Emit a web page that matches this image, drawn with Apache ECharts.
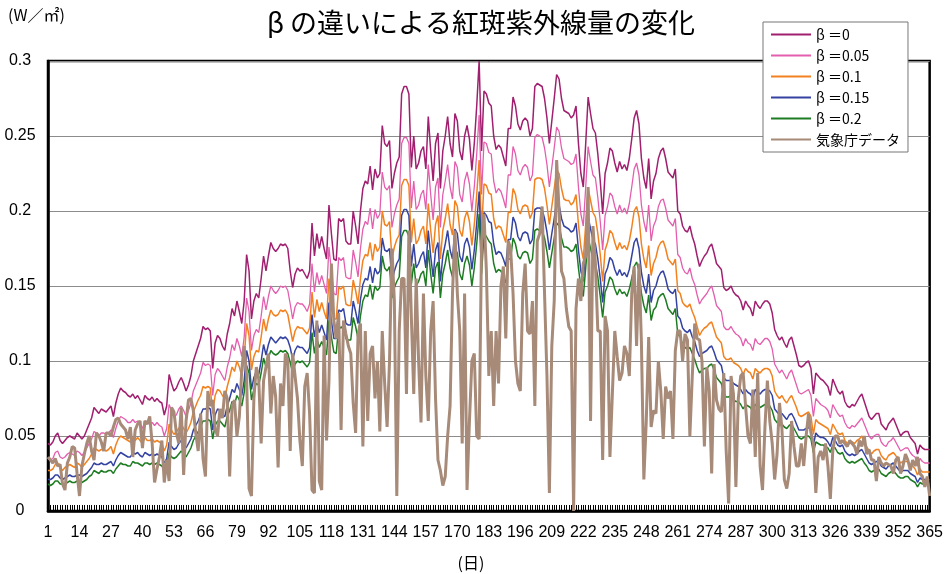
<!DOCTYPE html>
<html>
<head>
<meta charset="utf-8">
<script src="https://cdn.jsdelivr.net/npm/echarts/dist/echarts.min.js"></script>
<style>
  html, body { margin: 0; padding: 0; background: #fff; }
  #chart { width: 946px; height: 574px; }
</style>
</head>
<body>
<div id="chart"></div>
<script>
// Day of year, 1..365
const days = Array.from({ length: 365 }, (_, i) => String(i + 1));
const yTicks = [0, 0.05, 0.1, 0.15, 0.2, 0.25, 0.3];

const seriesNames = ['β ＝0', 'β ＝0.05', 'β ＝0.1', 'β ＝0.15', 'β ＝0.2', '気象庁データ'];

// Erythemal UV (W/m2), model with turbidity β = 0
const beta000 = [
.045,.044,.046,.05,.052,.047,.045,.047,.049,.05,
.049,.048,.052,.05,.048,.05,.054,.058,.062,.069,
.067,.065,.068,.067,.066,.068,.07,.063,.072,.078,
.082,.08,.079,.077,.076,.078,.075,.077,.074,.071,
.077,.075,.074,.076,.073,.075,.073,.072,.064,.07,
.091,.085,.08,.082,.086,.089,.085,.08,.084,.09,
.1,.105,.11,.115,.123,.121,.122,.12,.095,.112,
.117,.115,.11,.107,.118,.125,.135,.13,.14,.133,
.125,.14,.171,.16,.128,.14,.145,.142,.155,.17,
.16,.17,.179,.175,.173,.175,.178,.177,.178,.175,
.16,.149,.158,.162,.16,.161,.158,.155,.16,.192,
.17,.185,.175,.183,.175,.168,.204,.185,.168,.167,
.195,.193,.195,.18,.178,.178,.2,.19,.178,.2,
.215,.22,.218,.23,.214,.228,.222,.225,.257,.245,
.243,.247,.215,.225,.232,.236,.278,.283,.283,.278,
.229,.25,.228,.232,.24,.243,.228,.263,.24,.22,
.245,.252,.215,.24,.25,.263,.245,.236,.265,.26,
.24,.234,.25,.257,.248,.227,.245,.27,.3,.24,
.28,.278,.272,.27,.25,.241,.244,.242,.236,.23,
.255,.255,.276,.27,.258,.254,.26,.262,.26,.25,
.255,.283,.285,.284,.283,.275,.262,.245,.26,.275,
.291,.288,.275,.267,.266,.265,.262,.264,.27,.245,
.225,.216,.245,.276,.265,.255,.252,.238,.22,.198,
.225,.232,.242,.24,.232,.226,.233,.228,.231,.227,
.235,.248,.262,.267,.258,.235,.222,.215,.235,.208,
.22,.225,.235,.24,.242,.235,.226,.224,.222,.228,
.2,.198,.19,.187,.186,.19,.183,.178,.17,.163,
.167,.17,.172,.176,.178,.172,.165,.163,.161,.149,
.147,.148,.15,.146,.144,.143,.14,.134,.14,.137,
.135,.13,.14,.137,.135,.138,.14,.14,.138,.132,
.121,.117,.114,.116,.112,.109,.114,.116,.11,.104,
.097,.096,.097,.099,.1,.095,.078,.092,.09,.088,
.087,.085,.083,.077,.088,.084,.08,.078,.08,.073,
.07,.069,.071,.07,.073,.076,.078,.073,.068,.063,
.061,.063,.065,.065,.058,.056,.054,.058,.06,.062,
.058,.054,.05,.052,.053,.053,.049,.047,.045,.038,
.044,.042,.041,.041,.041
];

// β = 0.05
const beta005 = [
.035,.034,.035,.039,.040,.036,.035,.036,.038,.039,
.038,.037,.040,.039,.037,.039,.042,.045,.048,.053,
.052,.050,.052,.052,.051,.052,.054,.049,.055,.060,
.063,.062,.061,.059,.059,.061,.059,.060,.058,.055,
.060,.059,.058,.059,.057,.059,.057,.056,.050,.055,
.071,.067,.063,.064,.068,.070,.067,.063,.067,.072,
.080,.084,.088,.092,.099,.097,.098,.097,.077,.091,
.095,.093,.090,.087,.096,.102,.111,.107,.115,.110,
.103,.116,.142,.133,.107,.117,.121,.119,.130,.143,
.134,.143,.150,.147,.145,.147,.150,.149,.150,.147,
.138,.128,.136,.139,.138,.138,.136,.133,.138,.165,
.146,.159,.151,.157,.151,.145,.176,.160,.145,.144,
.169,.167,.169,.156,.155,.155,.174,.166,.156,.175,
.188,.193,.191,.202,.188,.201,.195,.198,.226,.216,
.214,.217,.189,.198,.204,.208,.245,.249,.249,.245,
.202,.220,.201,.204,.211,.214,.201,.231,.211,.194,
.216,.222,.189,.211,.220,.231,.216,.208,.233,.229,
.211,.206,.220,.226,.218,.200,.216,.238,.264,.211,
.246,.245,.239,.238,.220,.212,.215,.213,.208,.202,
.224,.224,.243,.238,.227,.224,.229,.231,.229,.220,
.224,.249,.251,.250,.249,.242,.231,.216,.229,.242,
.256,.253,.242,.235,.234,.233,.231,.232,.238,.216,
.198,.190,.216,.243,.233,.224,.222,.209,.193,.174,
.197,.203,.212,.210,.203,.198,.204,.199,.202,.198,
.205,.216,.228,.232,.224,.204,.193,.186,.204,.180,
.190,.194,.203,.207,.208,.202,.194,.192,.190,.195,
.171,.169,.162,.159,.158,.162,.155,.151,.144,.138,
.141,.143,.145,.148,.150,.144,.137,.135,.133,.123,
.121,.121,.123,.120,.118,.117,.115,.110,.115,.112,
.111,.107,.115,.112,.111,.113,.115,.115,.113,.108,
.098,.095,.092,.094,.091,.088,.092,.094,.089,.084,
.079,.078,.079,.080,.081,.077,.063,.075,.073,.071,
.070,.069,.067,.062,.071,.068,.065,.063,.064,.059,
.056,.055,.057,.056,.058,.060,.062,.058,.054,.050,
.048,.050,.051,.051,.046,.044,.043,.046,.047,.049,
.046,.043,.040,.041,.042,.042,.039,.037,.036,.030,
.035,.033,.032,.032,.032
];

// β = 0.1
const beta010 = [
.027,.027,.028,.031,.032,.029,.027,.029,.030,.031,
.030,.029,.032,.031,.029,.031,.033,.035,.038,.042,
.041,.040,.041,.041,.040,.041,.043,.038,.044,.048,
.050,.049,.048,.047,.046,.049,.047,.049,.047,.045,
.049,.047,.047,.048,.046,.047,.046,.045,.040,.044,
.058,.054,.051,.053,.055,.058,.055,.052,.055,.059,
.066,.070,.074,.077,.083,.082,.083,.082,.065,.077,
.081,.080,.077,.075,.083,.089,.096,.093,.100,.096,
.090,.102,.125,.117,.094,.103,.107,.106,.116,.128,
.120,.128,.134,.131,.130,.131,.134,.133,.134,.131,
.122,.113,.120,.123,.122,.122,.120,.118,.122,.146,
.129,.141,.133,.139,.133,.128,.155,.141,.128,.128,
.149,.148,.150,.138,.137,.137,.154,.147,.138,.155,
.167,.171,.170,.179,.167,.178,.173,.176,.200,.191,
.190,.193,.168,.176,.181,.184,.217,.221,.221,.217,
.179,.195,.178,.181,.187,.190,.178,.205,.187,.172,
.191,.197,.168,.187,.195,.205,.191,.184,.207,.203,
.187,.183,.195,.200,.193,.177,.191,.211,.234,.187,
.218,.217,.212,.211,.195,.188,.190,.189,.184,.179,
.199,.199,.215,.211,.201,.198,.203,.204,.203,.195,
.199,.221,.222,.222,.221,.215,.204,.191,.203,.215,
.227,.225,.215,.208,.207,.207,.204,.206,.211,.191,
.176,.168,.191,.215,.207,.199,.196,.185,.171,.153,
.174,.179,.187,.185,.179,.174,.179,.175,.177,.174,
.180,.189,.200,.203,.196,.178,.168,.162,.177,.157,
.165,.169,.176,.179,.180,.175,.168,.166,.164,.168,
.147,.145,.139,.137,.136,.138,.133,.129,.123,.117,
.120,.122,.123,.125,.126,.121,.116,.114,.112,.103,
.101,.101,.102,.099,.098,.097,.095,.091,.095,.093,
.092,.088,.095,.093,.092,.094,.095,.095,.094,.090,
.080,.077,.075,.077,.074,.072,.075,.077,.073,.069,
.064,.063,.064,.065,.066,.063,.051,.061,.059,.058,
.057,.056,.055,.051,.058,.055,.052,.051,.052,.047,
.045,.045,.046,.045,.047,.048,.050,.046,.043,.040,
.038,.040,.041,.041,.037,.035,.034,.037,.038,.039,
.037,.034,.032,.033,.033,.033,.031,.030,.028,.024,
.028,.026,.026,.026,.026
];

// β = 0.15
const beta015 = [
.021,.021,.022,.024,.024,.022,.021,.022,.023,.024,
.023,.023,.024,.024,.023,.024,.025,.027,.029,.032,
.031,.031,.032,.031,.031,.032,.033,.030,.034,.037,
.039,.038,.037,.036,.036,.039,.038,.039,.037,.036,
.039,.038,.037,.038,.037,.038,.037,.036,.032,.035,
.046,.043,.041,.042,.045,.047,.045,.042,.045,.048,
.054,.057,.060,.064,.068,.068,.069,.068,.054,.064,
.068,.067,.064,.063,.070,.075,.081,.079,.085,.081,
.077,.087,.107,.100,.081,.089,.093,.091,.100,.111,
.104,.111,.116,.114,.112,.114,.116,.115,.116,.114,
.109,.101,.107,.110,.109,.109,.107,.105,.109,.131,
.116,.126,.119,.124,.119,.114,.139,.127,.115,.115,
.134,.133,.135,.125,.124,.124,.140,.133,.125,.141,
.151,.155,.154,.163,.152,.162,.158,.160,.182,.174,
.173,.175,.153,.160,.165,.168,.197,.201,.201,.197,
.163,.178,.162,.165,.170,.173,.162,.187,.170,.156,
.174,.179,.153,.170,.178,.187,.174,.168,.188,.185,
.170,.166,.178,.182,.176,.161,.174,.192,.213,.170,
.199,.197,.193,.192,.178,.171,.173,.172,.168,.163,
.181,.181,.196,.192,.183,.180,.185,.186,.185,.178,
.181,.201,.202,.202,.201,.195,.186,.174,.185,.195,
.207,.204,.195,.190,.189,.188,.186,.187,.192,.174,
.160,.153,.174,.196,.188,.181,.178,.168,.155,.139,
.158,.162,.169,.167,.161,.157,.161,.157,.159,.156,
.161,.170,.179,.182,.175,.159,.150,.145,.158,.139,
.147,.150,.156,.159,.160,.155,.148,.146,.145,.148,
.130,.128,.122,.120,.119,.121,.116,.113,.107,.103,
.105,.106,.107,.109,.110,.106,.101,.099,.097,.089,
.087,.087,.087,.085,.084,.083,.081,.078,.081,.079,
.078,.075,.081,.079,.078,.080,.081,.081,.080,.077,
.068,.066,.064,.065,.063,.061,.064,.065,.062,.058,
.054,.054,.054,.055,.056,.053,.044,.052,.050,.049,
.049,.048,.046,.043,.049,.047,.044,.043,.044,.040,
.038,.037,.038,.037,.038,.040,.041,.038,.035,.032,
.031,.032,.033,.033,.030,.029,.028,.030,.031,.032,
.030,.028,.026,.027,.027,.027,.025,.024,.023,.019,
.022,.021,.021,.021,.021
];

// β = 0.2
const beta020 = [
.018,.017,.018,.020,.020,.018,.018,.018,.019,.020,
.019,.019,.020,.020,.019,.020,.021,.023,.024,.027,
.026,.025,.027,.026,.026,.027,.027,.025,.028,.030,
.032,.031,.031,.030,.030,.033,.032,.032,.031,.030,
.032,.032,.031,.032,.031,.032,.031,.030,.027,.029,
.039,.036,.035,.036,.038,.040,.038,.036,.039,.042,
.047,.050,.053,.056,.060,.060,.061,.060,.048,.057,
.060,.060,.058,.056,.063,.067,.073,.071,.077,.074,
.070,.079,.097,.092,.074,.081,.085,.084,.092,.102,
.096,.102,.107,.105,.104,.105,.107,.106,.107,.105,
.099,.092,.098,.100,.099,.100,.098,.096,.099,.119,
.105,.115,.109,.113,.109,.104,.127,.116,.106,.105,
.123,.122,.124,.115,.114,.114,.129,.123,.115,.130,
.140,.144,.143,.151,.141,.150,.147,.149,.170,.162,
.160,.163,.142,.149,.153,.156,.183,.187,.187,.183,
.151,.165,.150,.153,.158,.160,.150,.174,.158,.145,
.162,.166,.142,.158,.165,.174,.162,.156,.175,.172,
.158,.154,.165,.170,.164,.150,.162,.178,.198,.158,
.185,.183,.180,.178,.165,.159,.161,.160,.156,.152,
.168,.168,.182,.178,.170,.168,.172,.173,.172,.165,
.168,.187,.188,.187,.187,.182,.173,.162,.172,.182,
.192,.190,.182,.176,.176,.175,.173,.174,.178,.162,
.149,.143,.162,.182,.175,.168,.165,.156,.143,.129,
.146,.150,.156,.154,.148,.144,.148,.145,.146,.143,
.148,.155,.163,.166,.160,.145,.137,.132,.144,.127,
.134,.136,.142,.144,.145,.141,.135,.133,.131,.135,
.118,.116,.111,.109,.108,.109,.105,.101,.096,.092,
.094,.095,.095,.097,.098,.094,.089,.087,.085,.078,
.076,.076,.077,.074,.073,.073,.071,.068,.071,.070,
.069,.066,.071,.070,.069,.070,.071,.071,.070,.067,
.061,.059,.057,.058,.056,.055,.057,.058,.055,.052,
.049,.048,.049,.050,.050,.048,.039,.046,.045,.044,
.044,.043,.042,.039,.044,.042,.039,.038,.039,.035,
.033,.032,.033,.032,.033,.034,.035,.032,.030,.027,
.026,.027,.028,.028,.025,.024,.023,.025,.026,.027,
.025,.023,.022,.022,.023,.023,.021,.020,.019,.016,
.019,.018,.018,.018,.018
];

// Observed daily values (気象庁)
const jmaObserved = [
.036,.034,.032,.035,.03,.031,.018,.014,.032,.036,
.043,.042,.025,.01,.03,.038,.045,.05,.04,.034,
.052,.05,.046,.04,.052,.052,.05,.056,.061,.062,
.058,.056,.054,.048,.056,.036,.054,.058,.06,.042,
.06,.058,.063,.045,.019,.028,.036,.047,.019,.034,
.02,.069,.066,.052,.045,.069,.024,.06,.074,.075,
.067,.052,.04,.065,.035,.023,.08,.07,.074,.055,
.05,.068,.062,.08,.075,.023,.07,.074,.05,.063,
.094,.11,.09,.015,.01,.075,.096,.088,.045,.087,
.096,.105,.065,.09,.076,.029,.085,.07,.105,.1,
.04,.105,.09,.075,.047,.03,.083,.092,.065,.014,
.012,.127,.02,.014,.117,.047,.087,.165,.127,.115,
.132,.054,.127,.118,.11,.105,.072,.052,.118,.125,
.043,.12,.06,.105,.11,.075,.1,.053,.12,.085,
.056,.1,.175,.14,.01,.12,.155,.155,.078,.187,
.13,.078,.155,.1,.059,.145,.09,.06,.12,.14,
.075,.034,.027,.017,.023,.05,.07,.145,.187,.145,
.12,.045,.145,.014,.06,.1,.105,.05,.048,.18,
.198,.16,.09,.12,.07,.12,.085,.15,.163,.115,
.18,.175,.145,.1,.085,.08,.145,.165,.12,.118,
.14,.07,.18,.185,.203,.145,.09,.012,.11,.14,
.234,.2,.16,.155,.135,.123,.12,0,.135,.155,
.14,.165,.17,.216,.06,.19,.165,.12,.12,.034,
.13,.12,.036,.078,.12,.103,.087,.092,.11,.105,
.09,.145,.163,.11,.165,.112,.021,.06,.116,.056,
.067,.065,.1,.08,.048,.083,.075,.08,.048,.107,
.12,.12,.1,.118,.114,.05,.09,.125,.115,.114,
.1,.043,.096,.08,.025,.098,.074,.068,.066,.092,
.04,.005,.09,.078,.016,.075,.09,.092,.07,.05,
.045,.081,.036,.092,.03,.014,.056,.087,.06,.045,
.021,.038,.072,.055,.021,.015,.025,.06,.043,.03,
.03,.045,.03,.05,.065,.052,.045,.012,.036,.04,
.034,.045,.03,.008,.04,.05,.05,.045,.047,.045,
.043,.047,.045,.043,.038,.047,.043,.05,.038,.041,
.034,.034,.02,.036,.032,.03,.032,.031,.03,.025,
.034,.036,.025,.03,.038,.034,.027,.034,.03,.036,
.025,.023,.016,.023,.01
];

const seriesData = [beta000, beta005, beta010, beta015, beta020, jmaObserved];
const seriesColors = ['#a01f6f', '#e35fae', '#f28220', '#3443a2', '#1d7c22', '#a78a78'];
const seriesWidths = [1.5, 1.3, 1.5, 1.5, 1.5, 3];

const chart = echarts.init(document.getElementById('chart'), null, { renderer: 'canvas' });

const jpFont = '"Noto Sans CJK JP", "Noto Sans CJK SC", sans-serif';
const numFont = '"Liberation Sans", Arial, sans-serif';

chart.setOption({
  animation: false,
  backgroundColor: '#fff',
  grid: {
    left: 48, right: 16, top: 61, bottom: 63,
    show: true, borderColor: '#000', borderWidth: 2.5, backgroundColor: 'transparent'
  },
  legend: {
    orient: 'vertical',
    left: 763, top: 22,
    padding: [5, 8, 5, 8],
    itemWidth: 40, itemHeight: 2, itemGap: 6,
    icon: 'rect',
    backgroundColor: '#fff',
    borderColor: '#777', borderWidth: 1,
    textStyle: { fontFamily: jpFont, fontSize: 14, color: '#000', lineHeight: 15 },
    data: seriesNames
  },
  xAxis: {
    type: 'category',
    data: days,
    boundaryGap: false,
    axisLine: { show: true, lineStyle: { color: '#000', width: 2.5 } },
    axisTick: { show: true, inside: true, length: 6, interval: 0, lineStyle: { color: '#000', width: 1 } },
    axisLabel: { interval: 12, fontSize: 16, fontFamily: numFont, color: '#000', margin: 14 },
    splitLine: { show: false }
  },
  yAxis: {
    type: 'value',
    min: yTicks[0], max: yTicks[yTicks.length - 1], interval: 0.05,
    axisLine: { show: true, lineStyle: { color: '#000', width: 2.5 } },
    axisTick: { show: false },
    axisLabel: {
      fontSize: 16, fontFamily: numFont, color: '#000', margin: 28, align: 'center',
      formatter: v => String(+v.toFixed(2))
    },
    splitLine: { show: true, lineStyle: { color: '#8c8c8c', width: 1 } }
  },
  graphic: [
    {
      type: 'text', x: 481, y: 23, z: 10,
      style: { text: 'β の違いによる紅斑紫外線量の変化', font: '27px ' + jpFont, fill: '#000', align: 'center', verticalAlign: 'middle' }
    },
    {
      type: 'text', x: 8, y: 15, z: 10,
      style: { text: '(W／㎡)', font: '16px ' + jpFont, fill: '#000', align: 'left', verticalAlign: 'middle' }
    },
    {
      type: 'text', x: 471, y: 563, z: 10,
      style: { text: '(日)', font: '16px ' + jpFont, fill: '#000', align: 'center', verticalAlign: 'middle' }
    }
  ],
  series: seriesNames.map((name, i) => ({
    name,
    type: 'line',
    data: seriesData[i],
    symbol: 'none',
    showSymbol: false,
    color: seriesColors[i],
    lineStyle: { color: seriesColors[i], width: seriesWidths[i] },
    z: i === 5 ? 3 : 2
  }))
});
</script>
</body>
</html>
